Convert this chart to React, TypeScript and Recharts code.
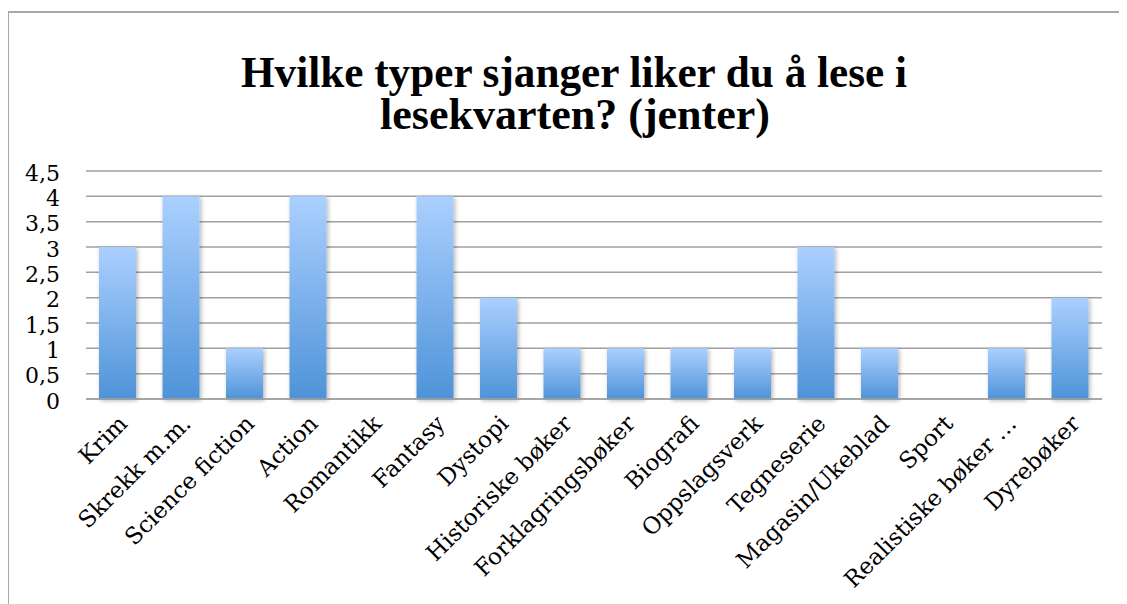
import React from "react";
import { BarChart, Bar, XAxis, YAxis, CartesianGrid } from "recharts";

const titleLines = ["Hvilke typer sjanger liker du å lese i", "lesekvarten? (jenter)"];
const categories = [
  "Krim",
  "Skrekk m.m.",
  "Science fiction",
  "Action",
  "Romantikk",
  "Fantasy",
  "Dystopi",
  "Historiske bøker",
  "Forklagringsbøker",
  "Biografi",
  "Oppslagsverk",
  "Tegneserie",
  "Magasin/Ukeblad",
  "Sport",
  "Realistiske bøker …",
  "Dyrebøker",
];
const values = [3, 4, 1, 4, 0, 4, 2, 1, 1, 1, 1, 3, 1, 0, 1, 2];
const yTicks = [0, 0.5, 1, 1.5, 2, 2.5, 3, 3.5, 4, 4.5];

const data = categories.map((name, i) => ({ name, value: values[i] }));

const FONT = "'DejaVu Serif', serif";

const XTick = (props: any) => {
  const { x, y, payload } = props;
  return (
    <g transform={`translate(${x + 11},${y + 18}) rotate(-45)`}>
      <text x={0} y={0} textAnchor="end" fontFamily={FONT} fontSize={23} fill="#000">
        {payload.value}
      </text>
    </g>
  );
};

const YTick = (props: any) => {
  const { x, y, payload } = props;
  return (
    <text x={x} y={y + 2} dy="0.355em" textAnchor="end" fontFamily={FONT} fontSize={22} fill="#000">
      {String(payload.value).replace(".", ",")}
    </text>
  );
};

export default function App() {
  return (
    <div style={{ position: "relative", width: 1119, height: 596, overflow: "hidden" }}>
      <div
        style={{
          position: "absolute",
          left: -1,
          top: 3,
          width: 1300,
          height: 800,
          border: "2px solid #a8a8a8",
          boxSizing: "border-box",
        }}
      />
      <div style={{ position: "absolute", left: -8, top: -8 }}>
        <BarChart
          width={1127}
          height={604}
          data={data}
          margin={{ top: 171, right: 25, bottom: 0, left: 0 }}
          barSize={37}
        >
          <defs>
            <linearGradient id="barGrad" x1="0" y1="0" x2="0" y2="1">
              <stop offset="0%" stopColor="#abd0ff" />
              <stop offset="100%" stopColor="#4e93d8" />
            </linearGradient>
            <filter id="barShadow" x="-30%" y="-10%" width="160%" height="130%">
              <feDropShadow dx="1.5" dy="1.5" stdDeviation="2" floodColor="#000" floodOpacity="0.3" />
            </filter>
          </defs>
          <CartesianGrid vertical={false} stroke="#a0a0a0" strokeWidth={1.5} />
          <YAxis
            width={86}
            domain={[0, 4.5]}
            ticks={yTicks}
            interval={0}
            axisLine={false}
            tickLine={false}
            tickSize={0}
            tickMargin={26}
            tick={<YTick />}
          />
          <XAxis
            dataKey="name"
            height={205}
            interval={0}
            axisLine={{ stroke: "#a0a0a0", strokeWidth: 1.5 }}
            tickLine={false}
            tick={<XTick />}
          />
          <Bar
            dataKey="value"
            fill="url(#barGrad)"
            filter="url(#barShadow)"
            isAnimationActive={false}
          />
        </BarChart>
      </div>
      <svg
        width={1119}
        height={200}
        style={{ position: "absolute", left: -8, top: -8, overflow: "visible" }}
      >
        <text
          textAnchor="middle"
          fontFamily="'Liberation Serif', serif"
          fontWeight="bold"
          fontSize={45}
          fill="#000"
        >
          <tspan x={574} y={87} textLength={666} lengthAdjust="spacingAndGlyphs">
            {titleLines[0]}
          </tspan>
          <tspan x={575} y={129} textLength={390} lengthAdjust="spacingAndGlyphs">
            {titleLines[1]}
          </tspan>
        </text>
      </svg>
    </div>
  );
}
